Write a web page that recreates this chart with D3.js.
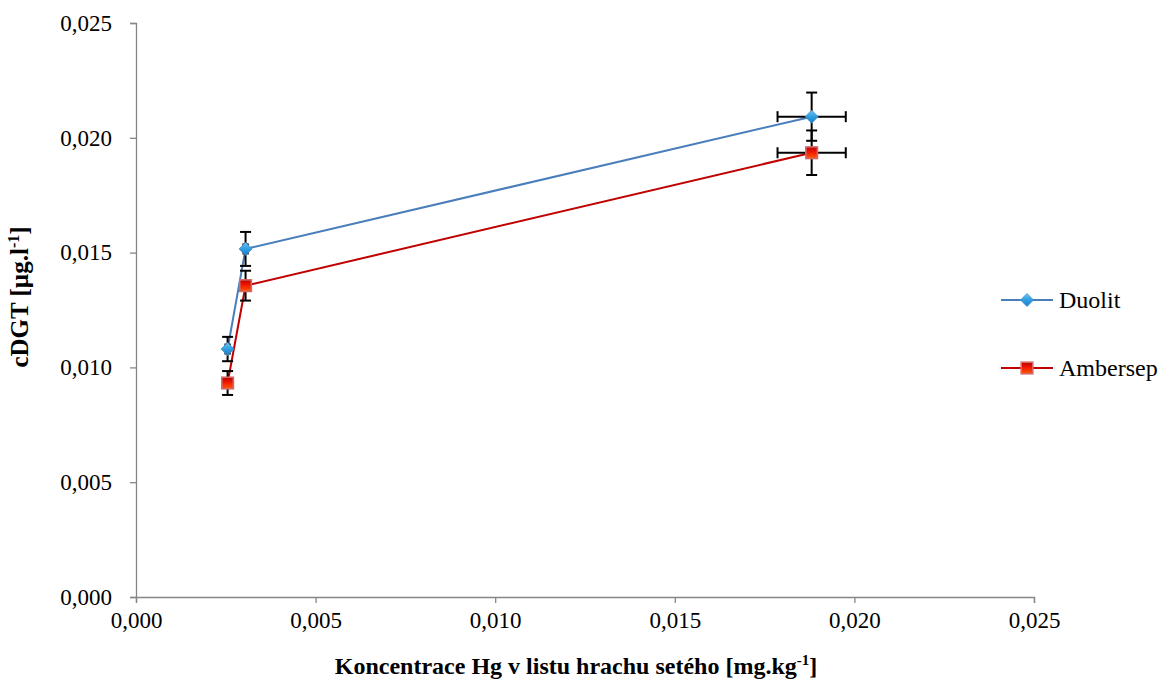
<!DOCTYPE html>
<html>
<head>
<meta charset="utf-8">
<script src="https://cdn.jsdelivr.net/npm/d3@7"></script>
<style>
  html, body { margin: 0; padding: 0; background: #fff; }
  svg { display: block; }
  text { font-family: "Liberation Serif", "Times New Roman", serif; fill: #000; }
</style>
</head>
<body>
<svg id="chart" width="1160" height="682"></svg>
<script>
// ---- data ----
const seriesNames = ["Duolit", "Ambersep"];
const xValues = [0.00255, 0.00305, 0.01881];
const duolitY = [0.0108, 0.01516, 0.02092];
const ambersepY = [0.00932, 0.01356, 0.01935];
const duolitYErr = [0.00053, 0.00074, 0.00105];
const ambersepYErr = [0.00052, 0.00065, 0.00097];
const xErr = [0.00006, 0.00006, 0.00095];
const xTicks = [0, 0.005, 0.010, 0.015, 0.020, 0.025];
const yTicks = [0, 0.005, 0.010, 0.015, 0.020, 0.025];

const svg = d3.select("#chart");
const FONT = '"Liberation Serif", "Times New Roman", serif';

const x = d3.scaleLinear().domain([0, 0.025]).range([136, 1034]);
const y = d3.scaleLinear().domain([0, 0.025]).range([597, 23]);
const fmt = v => d3.format(".3f")(v).replace(".", ",");

// defs: gradients
const defs = svg.append("defs");
const gB = defs.append("linearGradient").attr("id", "gBlue").attr("x1", "0").attr("y1", "0").attr("x2", "0").attr("y2", "1");
gB.append("stop").attr("offset", "0%").attr("stop-color", "#6cc3f2");
gB.append("stop").attr("offset", "50%").attr("stop-color", "#2f9ee0");
gB.append("stop").attr("offset", "100%").attr("stop-color", "#1f7cc4");
const gR = defs.append("linearGradient").attr("id", "gRed").attr("x1", "0").attr("y1", "0").attr("x2", "0").attr("y2", "1");
gR.append("stop").attr("offset", "0%").attr("stop-color", "#b80000");
gR.append("stop").attr("offset", "45%").attr("stop-color", "#f21800");
gR.append("stop").attr("offset", "100%").attr("stop-color", "#ff5a00");

// axes
const axisColor = "#868686";
const gx = svg.append("g").attr("transform", `translate(0,${y(0)})`)
  .call(d3.axisBottom(x).tickValues(xTicks).tickFormat(fmt).tickSize(6).tickPadding(9));
const gy = svg.append("g").attr("transform", `translate(${x(0)},0)`)
  .call(d3.axisLeft(y).tickValues(yTicks).tickFormat(fmt).tickSize(6).tickPadding(18));
[gx, gy].forEach(g => {
  g.attr("font-family", FONT);
  g.select(".domain").attr("stroke", axisColor).attr("stroke-width", 1.3);
  g.selectAll(".tick line").attr("stroke", axisColor).attr("stroke-width", 1.3);
  g.selectAll(".tick text").style("font-family", FONT).style("font-size", "23px").attr("fill", "#000");
});

// axis titles
const xt = svg.append("text").attr("x", 576).attr("y", 674).attr("text-anchor", "middle")
  .style("font-size", "24px").style("font-weight", "bold");
xt.append("tspan").text("Koncentrace Hg v listu hrachu setého [mg.kg");
xt.append("tspan").text("-1").style("font-size", "15px").attr("dy", -9);
xt.append("tspan").text("]").attr("dy", 9);

const yt = svg.append("text").attr("transform", `translate(28,297) rotate(-90)`).attr("text-anchor", "middle")
  .style("font-size", "25px").style("font-weight", "bold");
yt.append("tspan").text("cDGT [µg.l");
yt.append("tspan").text("-1").style("font-size", "16px").attr("dy", -9);
yt.append("tspan").text("]").attr("dy", 9);

// series
const series = [
  { name: seriesNames[0], ys: duolitY, yerr: duolitYErr, color: "#4a7ebb", shape: "diamond" },
  { name: seriesNames[1], ys: ambersepY, yerr: ambersepYErr, color: "#c00000", shape: "square" }
];

const line = d3.line().x(d => x(d[0])).y(d => y(d[1]));
series.forEach(s => {
  svg.append("path").datum(xValues.map((xv, i) => [xv, s.ys[i]]))
    .attr("d", line).attr("fill", "none").attr("stroke", s.color).attr("stroke-width", 2);
});

// error bars
const cap = 5.5;
series.forEach(s => {
  const g = svg.append("g").attr("stroke", "#000").attr("stroke-width", 2).attr("fill", "none");
  xValues.forEach((xv, i) => {
    const cx = x(xv), cy = y(s.ys[i]);
    const y1 = y(s.ys[i] + s.yerr[i]), y2 = y(s.ys[i] - s.yerr[i]);
    const x1 = x(xv - xErr[i]), x2 = x(xv + xErr[i]);
    g.append("line").attr("x1", cx).attr("x2", cx).attr("y1", y1).attr("y2", y2);
    g.append("line").attr("x1", cx - cap).attr("x2", cx + cap).attr("y1", y1).attr("y2", y1);
    g.append("line").attr("x1", cx - cap).attr("x2", cx + cap).attr("y1", y2).attr("y2", y2);
    g.append("line").attr("x1", x1).attr("x2", x2).attr("y1", cy).attr("y2", cy);
    g.append("line").attr("x1", x1).attr("x2", x1).attr("y1", cy - cap).attr("y2", cy + cap);
    g.append("line").attr("x1", x2).attr("x2", x2).attr("y1", cy - cap).attr("y2", cy + cap);
  });
});

function drawMarker(g, shape, cx, cy) {
  if (shape === "diamond") {
    const r = 6.5;
    g.append("path").attr("d", `M${cx},${cy - r}L${cx + r},${cy}L${cx},${cy + r}L${cx - r},${cy}Z`)
      .attr("fill", "url(#gBlue)").attr("stroke", "#3f8fd0").attr("stroke-width", 0.8);
  } else {
    const h = 5.8;
    g.append("rect").attr("x", cx - h).attr("y", cy - h).attr("width", 2 * h).attr("height", 2 * h)
      .attr("fill", "url(#gRed)").attr("stroke", "#d26a6a").attr("stroke-width", 1.6);
  }
}

series.forEach(s => {
  const g = svg.append("g");
  xValues.forEach((xv, i) => drawMarker(g, s.shape, x(xv), y(s.ys[i])));
});

// legend
const legY = [300, 368];
series.forEach((s, i) => {
  const g = svg.append("g");
  g.append("line").attr("x1", 1001).attr("x2", 1053).attr("y1", legY[i]).attr("y2", legY[i])
    .attr("stroke", s.color).attr("stroke-width", 2);
  drawMarker(g, s.shape, 1027, legY[i]);
  g.append("text").attr("x", 1059).attr("y", legY[i] + 8).style("font-size", "24px").text(s.name);
});
</script>
</body>
</html>
